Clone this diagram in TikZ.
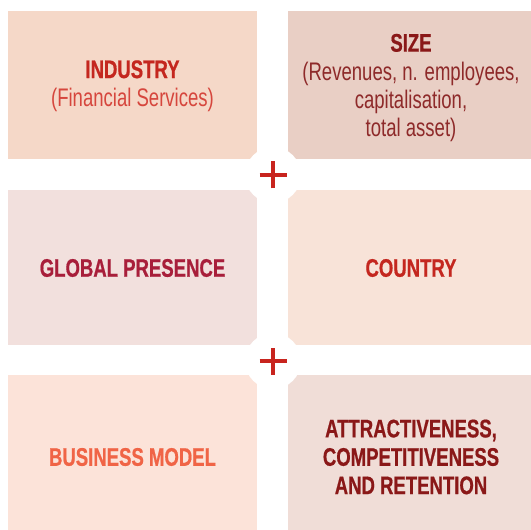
\documentclass[tikz,border=0pt]{standalone}
\usepackage{fontspec}
\setmainfont{Liberation Sans}[FakeStretch=0.73, BoldFeatures={FakeBold=0.6}]
\definecolor{bIndustry}{HTML}{F5D8C8}
\definecolor{bSize}{HTML}{E9CFC5}
\definecolor{bGlobal}{HTML}{F2E0DD}
\definecolor{bCountry}{HTML}{F8E3D8}
\definecolor{bBusiness}{HTML}{FCE3D9}
\definecolor{bAttr}{HTML}{F0DDD7}
\definecolor{tRed}{HTML}{C4271F}
\definecolor{tRedLight}{HTML}{D6463D}
\definecolor{tDark}{HTML}{8A1818}
\definecolor{tDarkReg}{HTML}{8E2A2A}
\definecolor{tCrimson}{HTML}{A81E3A}
\definecolor{tCoral}{HTML}{F06446}
\definecolor{plusRed}{HTML}{C8241E}
\tikzset{
  lbl/.style={align=center, font=\fontsize{25.5}{28.5}\selectfont},
  ttlfont/.style={font=\fontsize{25.5}{28.5}\selectfont\bfseries},
  hole/.style={circle, fill=white, draw=none, minimum size=56bp, inner sep=0pt},
  plusline/.style={draw=plusRed, line width=3.6bp}
}
\begin{document}
\begin{tikzpicture}[x=1bp,y=-1bp]
\useasboundingbox (0,0) rectangle (531,530);
% boxes
\fill[bIndustry] (8,11) rectangle (257,159);
\fill[bSize] (288,11) rectangle (531,159);
\fill[bGlobal] (8,190) rectangle (257,345);
\fill[bCountry] (288,190) rectangle (531,345);
\fill[bBusiness] (8,375) rectangle (257,530);
\fill[bAttr] (288,375) rectangle (531,530);
% labels
\node[lbl] (industry) at (132.5,86) {{\bfseries\color{tRed}INDUSTRY}\\{\color{tRedLight}(Financial Services)}};
\node[lbl] (size) at (411,88) {{\bfseries\color{tDark}SIZE}\\{\color{tDarkReg}(Revenues, n. employees,}\\{\color{tDarkReg}capitalisation,}\\{\color{tDarkReg}total asset)}};
\node[lbl, ttlfont, text=tCrimson] (global) at (132.5,268) {GLOBAL PRESENCE};
\node[lbl, ttlfont, text=tRed] (country) at (411,268) {COUNTRY};
\node[lbl, ttlfont, text=tCoral] (business) at (132.5,457) {BUSINESS MODEL};
\node[lbl, ttlfont, text=tDark] (attr) at (411,457) {ATTRACTIVENESS,\\COMPETITIVENESS\\AND RETENTION};
% plus signs
\node[hole] (p1) at (273,175) {};
\node[hole] (p2) at (273,361) {};
\foreach \p in {p1,p2}{
  \draw[plusline] ([xshift=-13.5bp]\p.center) -- ([xshift=13.5bp]\p.center);
  \draw[plusline] ([yshift=-13.5bp]\p.center) -- ([yshift=13.5bp]\p.center);
}
\end{tikzpicture}
\end{document}
